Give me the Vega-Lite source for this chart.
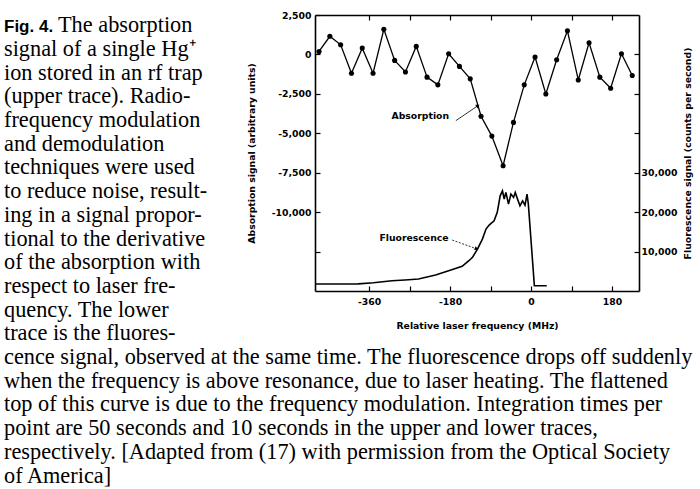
{
  "$schema": "https://vega.github.io/schema/vega-lite/v6.json",
  "background": "white",
  "padding": {"left": 4, "top": 11, "right": 0, "bottom": 0},
  "bounds": "flush",
  "spacing": 96,
  "config": {
    "view": {"stroke": null}
  },
  "datasets": {
    "caption": [
      {"line": 0, "part": "label", "text": "Fig. 4."},
      {"line": 0, "part": "body", "text": "The absorption"},
      {"line": 1, "part": "body", "text": "signal of a single Hg⁺"},
      {"line": 2, "part": "body", "text": "ion stored in an rf trap"},
      {"line": 3, "part": "body", "text": "(upper trace). Radio-"},
      {"line": 4, "part": "body", "text": "frequency modulation"},
      {"line": 5, "part": "body", "text": "and demodulation"},
      {"line": 6, "part": "body", "text": "techniques were used"},
      {"line": 7, "part": "body", "text": "to reduce noise, result-"},
      {"line": 8, "part": "body", "text": "ing in a signal propor-"},
      {"line": 9, "part": "body", "text": "tional to the derivative"},
      {"line": 10, "part": "body", "text": "of the absorption with"},
      {"line": 11, "part": "body", "text": "respect to laser fre-"},
      {"line": 12, "part": "body", "text": "quency. The lower"},
      {"line": 13, "part": "body", "text": "trace is the fluores-"},
      {"line": 14, "part": "body", "text": "cence signal, observed at the same time. The fluorescence drops off suddenly"},
      {"line": 15, "part": "body", "text": "when the frequency is above resonance, due to laser heating. The flattened"},
      {"line": 16, "part": "body", "text": "top of this curve is due to the frequency modulation. Integration times per"},
      {"line": 17, "part": "body", "text": "point are 50 seconds and 10 seconds in the upper and lower traces,"},
      {"line": 18, "part": "body", "text": "respectively. [Adapted from (17) with permission from the Optical Society"},
      {"line": 19, "part": "body", "text": "of America]"}
    ],
    "absorption": [
      {"mhz": -471, "abs": 190}, {"mhz": -447, "abs": 1150}, {"mhz": -423, "abs": 610},
      {"mhz": -399, "abs": -1190}, {"mhz": -375, "abs": 400}, {"mhz": -351, "abs": -1190},
      {"mhz": -327, "abs": 1590}, {"mhz": -303, "abs": -380}, {"mhz": -279, "abs": -1110},
      {"mhz": -255, "abs": 510}, {"mhz": -231, "abs": -1440}, {"mhz": -207, "abs": -1930},
      {"mhz": -183, "abs": 40}, {"mhz": -159, "abs": -760}, {"mhz": -135, "abs": -1550},
      {"mhz": -111, "abs": -3920}, {"mhz": -87, "abs": -5180}, {"mhz": -62, "abs": -7060},
      {"mhz": -39, "abs": -4310}, {"mhz": -15, "abs": -1930}, {"mhz": 9, "abs": -170},
      {"mhz": 33, "abs": -2510}, {"mhz": 57, "abs": -340}, {"mhz": 81, "abs": 1500},
      {"mhz": 105, "abs": -1620}, {"mhz": 129, "abs": 740}, {"mhz": 153, "abs": -1440},
      {"mhz": 177, "abs": -2140}, {"mhz": 201, "abs": 40}, {"mhz": 225, "abs": -1340}
    ],
    "fluorescence": [
      {"mhz": -480, "cps": 1770}, {"mhz": -451, "cps": 1770}, {"mhz": -420, "cps": 1770},
      {"mhz": -384, "cps": 1800}, {"mhz": -350, "cps": 2100}, {"mhz": -309, "cps": 2610},
      {"mhz": -280, "cps": 2800}, {"mhz": -250, "cps": 3040}, {"mhz": -212, "cps": 4050},
      {"mhz": -183, "cps": 5140}, {"mhz": -153, "cps": 6260}, {"mhz": -138, "cps": 7680},
      {"mhz": -130, "cps": 8540}, {"mhz": -119, "cps": 10640}, {"mhz": -108, "cps": 13170},
      {"mhz": -100, "cps": 15700}, {"mhz": -93, "cps": 16720}, {"mhz": -82, "cps": 17810},
      {"mhz": -75, "cps": 19940}, {"mhz": -68.5, "cps": 24140}, {"mhz": -63.4, "cps": 25410},
      {"mhz": -59.6, "cps": 23300}, {"mhz": -55.8, "cps": 25000}, {"mhz": -50, "cps": 22040},
      {"mhz": -44.6, "cps": 24570}, {"mhz": -38.8, "cps": 23730}, {"mhz": -35, "cps": 25000},
      {"mhz": -29.9, "cps": 23300}, {"mhz": -24.5, "cps": 21610}, {"mhz": -18.7, "cps": 22870},
      {"mhz": -13.3, "cps": 21780}, {"mhz": -8.8, "cps": 24570}, {"mhz": -5.9, "cps": 22040},
      {"mhz": 7.5, "cps": 1340}, {"mhz": 35, "cps": 1340}
    ]
  },
  "hconcat": [
    {
      "width": 215,
      "height": 473,
      "data": {"name": "caption"},
      "encoding": {
        "y": {"field": "line", "type": "quantitative", "scale": {"domain": [-0.73, 19.228], "reverse": true, "nice": false, "zero": false}, "axis": null},
        "x": {"value": 0},
        "text": {"field": "text"}
      },
      "layer": [
        {
          "transform": [{"filter": "datum.part == 'body' && datum.line > 0"}],
          "mark": {"type": "text", "align": "left", "baseline": "alphabetic", "font": "Liberation Serif", "fontSize": 22.3, "color": "black"}
        },
        {
          "transform": [{"filter": "datum.part == 'body' && datum.line == 0"}],
          "mark": {"type": "text", "align": "left", "baseline": "alphabetic", "font": "Liberation Serif", "fontSize": 22.3, "color": "black", "dx": 54}
        },
        {
          "transform": [{"filter": "datum.part == 'label'"}],
          "mark": {"type": "text", "align": "left", "baseline": "alphabetic", "font": "Liberation Sans", "fontWeight": "bold", "fontSize": 17, "color": "black"}
        }
      ]
    },
    {
      "width": 324,
      "height": 276,
      "resolve": {"scale": {"y": "independent"}},
      "layer": [
        {
          "data": {"name": "absorption"},
          "mark": {"type": "line", "color": "black", "strokeWidth": 1.3},
          "encoding": {
            "x": {"field": "mhz", "type": "quantitative", "scale": {"domain": [-480, 240], "nice": false, "zero": false},
              "axis": {"orient": "bottom", "title": "Relative laser frequency (MHz)", "values": [-360, -270, -180, -90, 0, 90, 180],
                "labelExpr": "datum.value % 180 == 0 ? (datum.value < 0 ? '-' + abs(datum.value) : '' + datum.value) : ''",
                "grid": false, "domainColor": "black", "domainWidth": 1.6, "tickColor": "black", "tickWidth": 1.2, "tickSize": -5,
                "labelFont": "DejaVu Sans", "labelFontWeight": "bold", "labelFontSize": 9.3, "labelColor": "black",
                "titleFont": "DejaVu Sans", "titleFontWeight": "bold", "titleFontSize": 9.3, "titleColor": "black",
                "labelOverlap": false, "labelFlush": false, "labelPadding": 11, "titlePadding": 15}},
            "y": {"field": "abs", "type": "quantitative", "scale": {"domain": [-15000, 2500], "nice": false, "zero": false},
              "axis": {"orient": "left", "title": "Absorption signal (arbitrary units)", "values": [-12500, -10000, -7500, -5000, -2500, 0, 2500],
                "labelExpr": "datum.value < -11000 ? '' : (datum.value < 0 ? '-' + format(-datum.value, ',') : format(datum.value, ','))",
                "grid": false, "domainColor": "black", "domainWidth": 1.6, "tickColor": "black", "tickWidth": 1.2, "tickSize": -5,
                "labelFont": "DejaVu Sans", "labelFontWeight": "bold", "labelFontSize": 9.3, "labelColor": "black",
                "titleFont": "DejaVu Sans", "titleFontWeight": "bold", "titleFontSize": 9.3, "titleColor": "black",
                "labelOverlap": false, "labelFlush": false, "labelPadding": 9, "titlePadding": 15}}
          }
        },
        {
          "data": {"name": "absorption"},
          "mark": {"type": "point", "filled": true, "color": "black", "size": 26, "opacity": 1},
          "encoding": {
            "x": {"field": "mhz", "type": "quantitative", "axis": null},
            "y": {"field": "abs", "type": "quantitative", "scale": {"domain": [-15000, 2500], "nice": false, "zero": false}, "axis": null}
          }
        },
        {
          "data": {"values": [{"mhz": -246, "abs": -3924, "label": "Absorption"}]},
          "mark": {"type": "text", "font": "DejaVu Sans", "fontWeight": "bold", "fontSize": 9.3, "color": "black", "align": "center", "baseline": "middle"},
          "encoding": {
            "x": {"field": "mhz", "type": "quantitative", "axis": null},
            "y": {"field": "abs", "type": "quantitative", "scale": {"domain": [-15000, 2500], "nice": false, "zero": false}, "axis": null},
            "text": {"field": "label"}
          }
        },
        {
          "data": {"values": [{"x0": -167, "y0": -4200, "x1": -118, "y1": -3250}]},
          "mark": {"type": "rule", "color": "black", "strokeWidth": 0.8},
          "encoding": {
            "x": {"field": "x0", "type": "quantitative", "axis": null},
            "y": {"field": "y0", "type": "quantitative", "scale": {"domain": [-15000, 2500], "nice": false, "zero": false}, "axis": null},
            "x2": {"field": "x1"},
            "y2": {"field": "y1"}
          }
        },
        {
          "data": {"values": [{"x1": -118, "y1": -3250}]},
          "mark": {"type": "point", "shape": "triangle-right", "filled": true, "color": "black", "size": 18, "angle": -32, "opacity": 1},
          "encoding": {
            "x": {"field": "x1", "type": "quantitative", "axis": null},
            "y": {"field": "y1", "type": "quantitative", "scale": {"domain": [-15000, 2500], "nice": false, "zero": false}, "axis": null}
          }
        },
        {
          "data": {"name": "fluorescence"},
          "mark": {"type": "line", "color": "black", "strokeWidth": 1.6},
          "encoding": {
            "x": {"field": "mhz", "type": "quantitative",
              "axis": {"orient": "top", "title": null, "labels": false, "values": [-360, -270, -180, -90, 0, 90, 180],
                "grid": false, "domainColor": "black", "domainWidth": 1.6, "tickColor": "black", "tickWidth": 1.2, "tickSize": -5}},
            "y": {"field": "cps", "type": "quantitative", "scale": {"domain": [0, 70000], "nice": false, "zero": false},
              "axis": {"orient": "right", "title": "Fluorescence signal (counts per second)", "titleAngle": 270, "titleBaseline": "top",
                "values": [10000, 20000, 30000, 40000, 50000, 60000],
                "labelExpr": "datum.value <= 30000 ? format(datum.value, ',') : ''",
                "grid": false, "domainColor": "black", "domainWidth": 1.6, "tickColor": "black", "tickWidth": 1.2, "tickSize": -5,
                "labelFont": "DejaVu Sans", "labelFontWeight": "bold", "labelFontSize": 9.3, "labelColor": "black",
                "titleFont": "DejaVu Sans", "titleFontWeight": "bold", "titleFontSize": 9.3, "titleColor": "black",
                "labelOverlap": false, "labelFlush": false, "labelPadding": 7, "titlePadding": 7}}
          }
        },
        {
          "data": {"values": [{"mhz": -260, "cps": 13350, "label": "Fluorescence"}]},
          "mark": {"type": "text", "font": "DejaVu Sans", "fontWeight": "bold", "fontSize": 9.3, "color": "black", "align": "center", "baseline": "middle"},
          "encoding": {
            "x": {"field": "mhz", "type": "quantitative", "axis": null},
            "y": {"field": "cps", "type": "quantitative", "scale": {"domain": [0, 70000], "nice": false, "zero": false}, "axis": null},
            "text": {"field": "label"}
          }
        },
        {
          "data": {"values": [{"x0": -175, "y0": 12920, "x1": -121, "y1": 10700}]},
          "mark": {"type": "rule", "color": "black", "strokeWidth": 0.8, "strokeDash": [2, 1.5]},
          "encoding": {
            "x": {"field": "x0", "type": "quantitative", "axis": null},
            "y": {"field": "y0", "type": "quantitative", "scale": {"domain": [0, 70000], "nice": false, "zero": false}, "axis": null},
            "x2": {"field": "x1"},
            "y2": {"field": "y1"}
          }
        },
        {
          "data": {"values": [{"x1": -121, "y1": 10700}]},
          "mark": {"type": "point", "shape": "triangle-right", "filled": true, "color": "black", "size": 18, "angle": 22, "opacity": 1},
          "encoding": {
            "x": {"field": "x1", "type": "quantitative", "axis": null},
            "y": {"field": "y1", "type": "quantitative", "scale": {"domain": [0, 70000], "nice": false, "zero": false}, "axis": null}
          }
        }
      ]
    }
  ]
}
